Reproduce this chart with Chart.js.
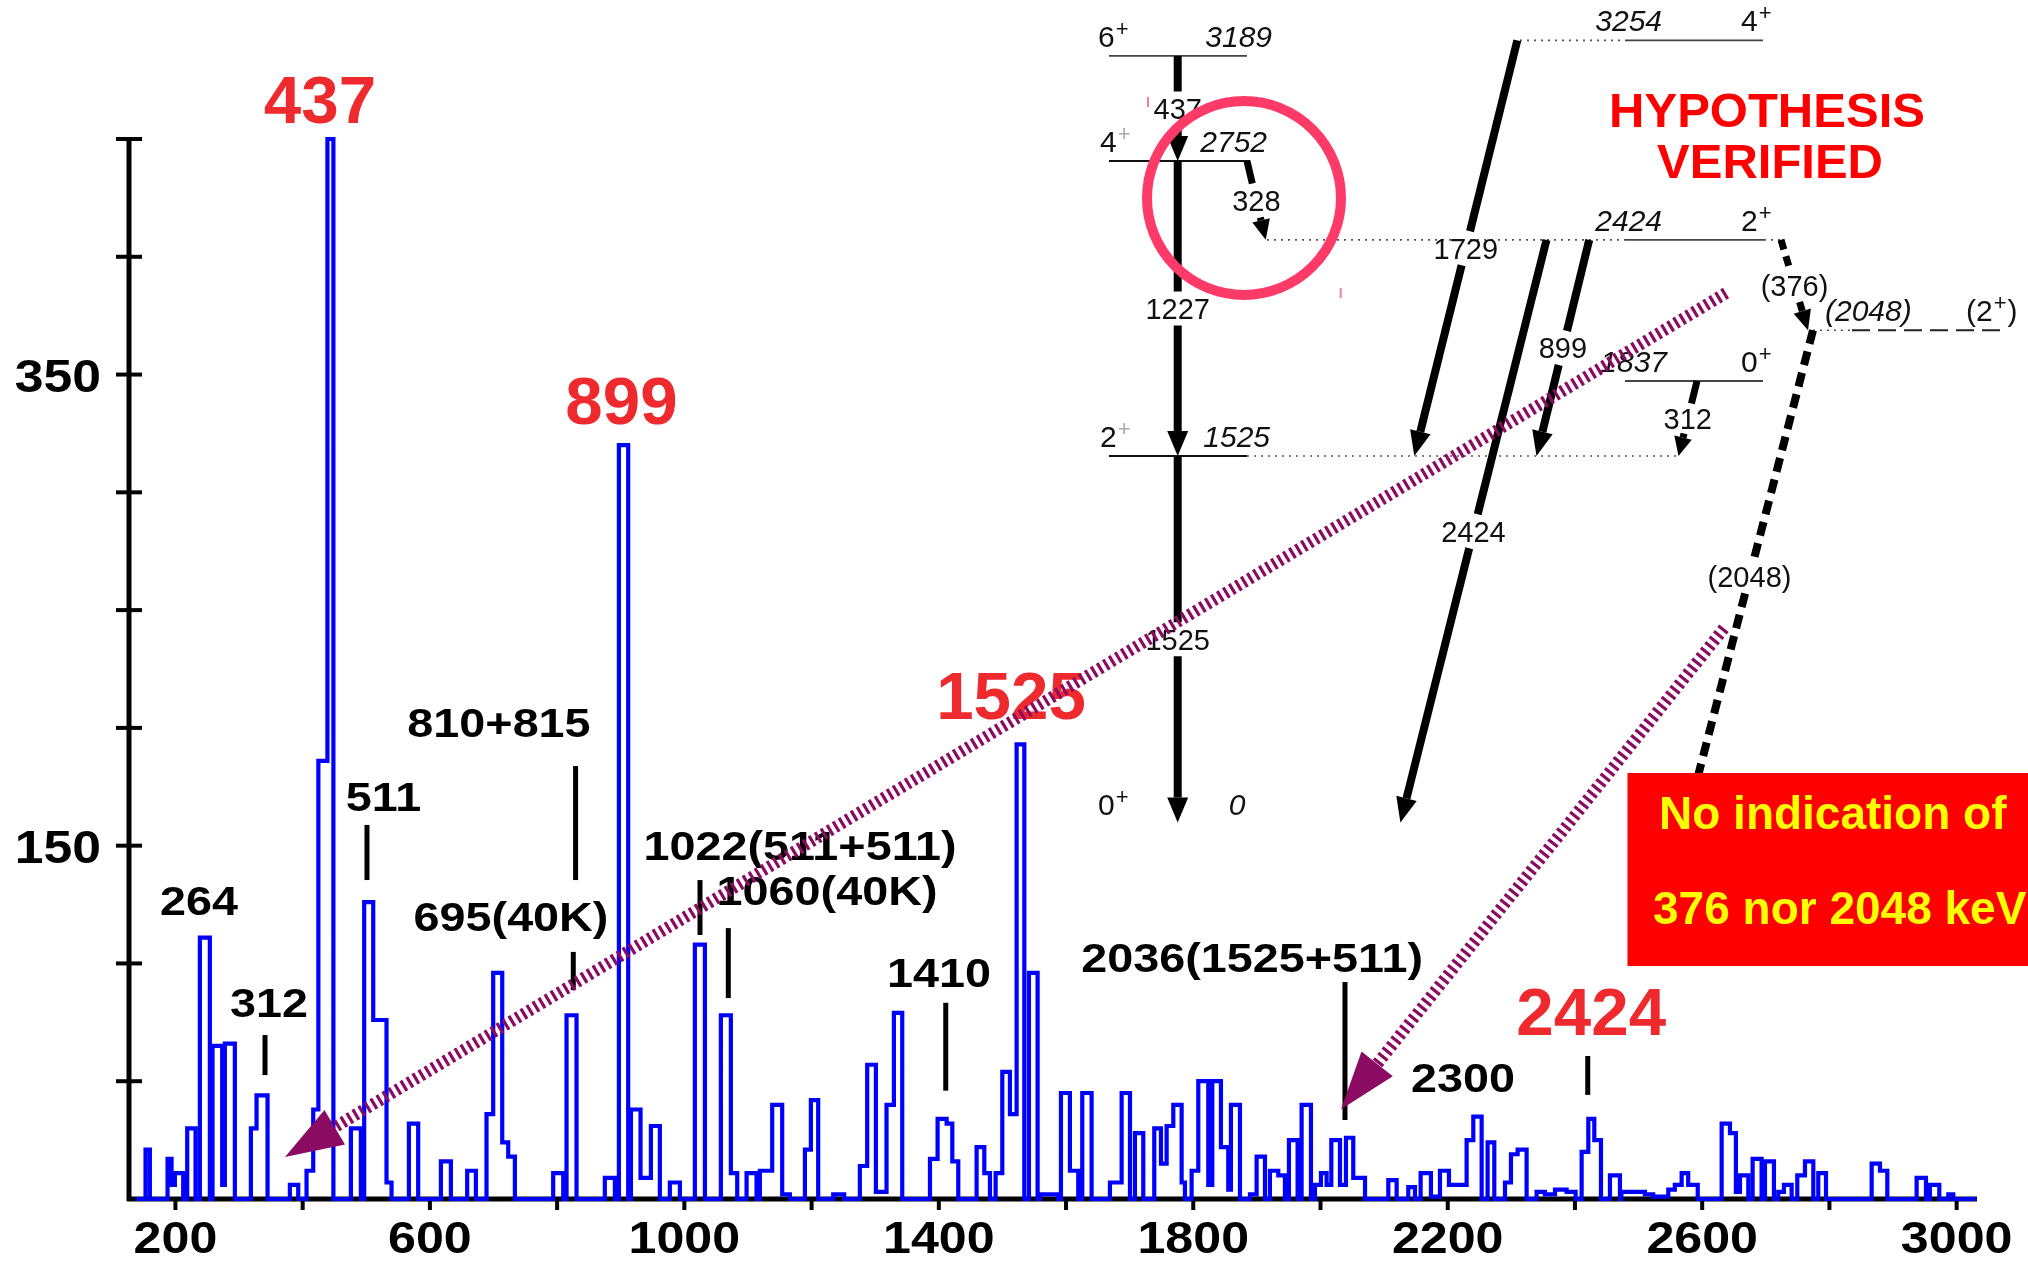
<!DOCTYPE html>
<html>
<head>
<meta charset="utf-8">
<script src="https://cdn.jsdelivr.net/npm/chart.js@4/dist/chart.umd.min.js"></script>
<style>
  html, body { margin: 0; padding: 0; background: #ffffff; }
  canvas { display: block; }
</style>
</head>
<body>
<canvas id="spec" width="2028" height="1261"></canvas>
<script>
// ---------------------------------------------------------------
// Gamma-ray spectrum: [left bin edge (keV), counts in bin]; the last
// entry closes the final bin.
// ---------------------------------------------------------------
const spectrum = [
  [138,0],[153,21],[159.8,0],[187.6,17],[193.9,6],[199.1,11],[212.2,0],[218.5,30],[231.6,0],
  [238.4,111],[254.1,0],[258.3,65],[273.5,6],[277.7,66],[293.4,0],[318.6,30],[327.5,44],[344.8,0],
  [379.9,6],[393,0],[406.1,12],[416.6,38],[424.7,186],[438.9,450],[448.3,0],[475.8,30],[491.5,0],
  [496.7,126],[510.9,76],[531.8,7],[539.7,0],[567,32],[581.6,0],[617.3,16],[633,0],[658.6,12],
  [672.3,0],[689,36],[699.5,96],[713.7,24],[723.1,18],[733.6,0],[793.8,11],[809.6,0],[814.8,78],
  [830.5,0],[875,9],[890.8,0],[897.1,320],[911.7,0],[916,38],[931.1,9],[947.4,31],[961.5,0],
  [977.2,7],[993,0],[1016.5,108],[1032.3,0],[1057.4,78],[1073.1,11],[1083.1,0],[1097.8,11],[1113.5,0],
  [1118.7,12],[1138.1,40],[1153.8,2],[1165.9,0],[1189.5,21],[1198.9,42],[1210.4,0],[1234,2],[1251.3,0],
  [1275.9,14],[1287.4,57],[1301.1,3],[1317.8,40],[1329.4,79],[1342.5,0],[1386.1,17],[1398.1,34],
  [1412.3,32],[1421.2,16],[1430.6,0],[1459.4,22],[1471.5,11],[1480.4,0],[1489.3,11],[1499.8,54],
  [1511.8,36],[1522.3,193],[1534.4,0],[1541.7,96],[1555.3,0],[1559,2],[1587.8,0],[1592,45],[1606.1,12],
  [1619.2,0],[1625.5,45],[1640.2,0],[1669,7],[1687.4,45],[1700.5,0],[1708.3,28],[1721.4,0],[1738.7,30],
  [1749.2,15],[1758.1,31],[1768.6,40],[1781.7,7],[1786.9,0],[1797.4,12],[1807.9,50],[1823.6,6],
  [1829.9,50],[1843.5,22],[1855,4],[1859.2,40],[1873.4,0],[1889.1,2],[1899.6,18],[1912.7,0],[1920.5,12],
  [1933.6,10],[1944.1,0],[1950.4,25],[1964,0],[1970.3,40],[1985,0],[1991.3,6],[2000.7,11],[2009.6,6],
  [2017,25],[2030.6,6],[2040,26],[2051.5,9],[2070,0],[2106.6,8],[2119.7,0],[2138,5],[2148.5,0],
  [2157.4,11],[2173.6,1],[2187.8,12],[2201.9,6],[2229.7,25],[2240.2,35],[2253.3,0],[2262.7,24],
  [2273.2,0],[2290,7],[2299.4,19],[2309.9,21],[2324,0],[2339.7,3],[2352.8,2],[2368.6,4],[2386.9,3],
  [2401,0],[2410.5,20],[2421,34],[2430.4,25],[2440.9,0],[2455,10],[2470.7,0],[2473,3],[2510,2],
  [2523,1],[2546.7,4],[2557,6],[2567.7,11],[2578,6],[2593,0],[2630.6,32],[2643.7,28],[2653,3],
  [2659.4,10],[2672.5,0],[2679.3,17],[2693.4,0],[2698.7,16],[2712.8,0],[2719.6,3],[2728.5,6],
  [2740.6,0],[2749.5,10],[2761.6,16],[2774.7,0],[2782.5,11],[2794.6,0],[2866.4,15],[2879.5,12],
  [2891,0],[2937.1,9],[2951.8,0],[2958,6],[2972.7,0],[2986.9,2],[2994.7,0],[3031,0]
];

// Axis ticks and their labels
const xTicks = [200,400,600,800,1000,1200,1400,1600,1800,2000,2200,2400,2600,2800,3000];
const xTickLabels = ['200','','600','','1000','','1400','','1800','','2200','','2600','','3000'];
const yTicks = [50,100,150,200,250,300,350,400,450];
const yTickLabels = ['','','150','','','','350','',''];

// Gamma lines confirmed in the spectrum (red) and other identified lines (black)
const confirmedLines = ['437','899','1525','2424'];
const otherLines = ['264','312','511','810+815','695(40K)','1022(511+511)','1060(40K)','1410','2036(1525+511)','2300'];

// Level scheme: level energies (keV) and spin-parity
const levelEnergies = [0, 1525, 2752, 3189, 3254, 2424, 1837, 2048];
const levelSpins    = ['0+', '2+', '4+', '6+', '4+', '2+', '0+', '(2+)'];
// Transitions between levels
const gammaNames = ['437','1227','1525','328','1729','2424','899','312','(376)','(2048)'];
const gammaFrom  = [3189, 2752, 1525, 2752, 3254, 2424, 2424, 1837, 2424, 2048];
const gammaTo    = [2752, 1525, 0,    2424, 1525, 0,    1525, 1525, 2048, 0];

// ---------------------------------------------------------------
// Placement of the annotations (spectrum units: keV, counts)
// ---------------------------------------------------------------
const confirmedAnchors = [[427.3,456.8],[901.2,329],[1513.5,203.8],[2425.6,69.6]];
const otherAnchors = [[237,120.6],[347,77.4],[527,164.7],[708.6,196.1],[727.5,113.8],
                      [1181.8,143.9],[1224.3,124.8],[1400.3,90],[1892.4,96.4],[2224,45.4]];
// vertical pointer marks: [keV, lower count, upper count]
const pointerMarks = [[340.8,52.6,69.6],[501.1,135.4,158.8],[829,135.4,183.8],[825.4,88.7,104.9],
                      [1024.6,112.1,135.4],[1069.1,85.3,115],[1410.9,46,83.3],[2038.5,33.5,92.1],
                      [2420.1,44.2,60.7]];

// Level-scheme drawing layout (canvas px)
const schemeY = e => 822.6 - 0.2404 * e;
const levelLayout = [
  { lines: [], spinX: 1098, eX: 1237, eAlign: 'center' },
  { lines: [[1109,1247,'solid'],[1247,1679,'dot']], spinX: 1100, eX: 1270, eAlign: 'right', supColor: '#aaaaaa' },
  { lines: [[1109,1250,'solid']], spinX: 1100, eX: 1267, eAlign: 'right', supColor: '#aaaaaa' },
  { lines: [[1109,1247,'thin']], spinX: 1098, eX: 1272, eAlign: 'right' },
  { lines: [[1520,1625,'dot'],[1625,1763,'thin']], spinX: 1741, eX: 1662, eAlign: 'right' },
  { lines: [[1267,1625,'dot'],[1625,1764,'thin'],[1764,1781,'dot']], spinX: 1741, eX: 1662, eAlign: 'right' },
  { lines: [[1625,1763,'thin']], spinX: 1741, eX: 1667, eAlign: 'right' },
  { lines: [[1813,1852,'dot'],[1852,2005,'dash']], spinX: 1966, eX: 1825, eAlign: 'left', paren: true }
];
const gammaLayout = [
  { x0: 1177.7, x1: 1177.7 },
  { x0: 1177.7, x1: 1177.7 },
  { x0: 1177.7, x1: 1177.7 },
  { x0: 1247,   x1: 1265.7, head: 20, half: 9, width: 7 },
  { x0: 1517.3, x1: 1414.3 },
  { x0: 1546.5, x1: 1400.4 },
  { x0: 1589.2, x1: 1536.5 },
  { x0: 1697,   x1: 1678.5, head: 19, half: 9, width: 7, gap: 15 },
  { x0: 1781,   x1: 1808,   dash: [10, 7], width: 7, head: 20, half: 9 },
  { x0: 1813,   x1: 1686,   dash: [14, 8], width: 8 }
];

// Hatched pointers from the level scheme down to the spectrum
const pointerArrows = [
  { from: [1726, 293],   to: [372.2, 17.8] },
  { from: [1724, 628.3], to: [2032.3, 38.1] }
];

const FONT = '"Liberation Sans", Arial, Helvetica, sans-serif';

function drawText(ctx, str, x, y, font, color, align, sx) {
  ctx.save();
  ctx.translate(x, y);
  ctx.scale(sx || 1, 1);
  ctx.font = font;
  ctx.fillStyle = color;
  ctx.textAlign = align || 'center';
  ctx.textBaseline = 'alphabetic';
  ctx.fillText(str, 0, 0);
  ctx.restore();
}

function line(ctx, x0, y0, x1, y1) {
  ctx.beginPath();
  ctx.moveTo(x0, y0);
  ctx.lineTo(x1, y1);
  ctx.stroke();
}

// Axes drawn from the chart's own scales
const axesPlugin = {
  id: 'spectrumAxes',
  beforeDatasetsDraw(chart) {
    const { ctx, scales: { x, y } } = chart;
    const x0 = x.getPixelForValue(x.min);
    const x1 = x.getPixelForValue(x.max);
    const yBase = y.getPixelForValue(0);
    const yTop = y.getPixelForValue(y.max);
    ctx.save();
    ctx.strokeStyle = '#000000';
    ctx.lineCap = 'butt';
    ctx.lineWidth = 5;
    line(ctx, x0, yTop - 1, x0, yBase + 2);
    line(ctx, x0 - 2, yBase, x1, yBase);
    ctx.lineWidth = 4;
    yTicks.forEach((v, i) => {
      const py = y.getPixelForValue(v);
      line(ctx, x0 - 13, py, x0 + 13, py);
      if (yTickLabels[i]) {
        drawText(ctx, yTickLabels[i], 101, py + 17, 'bold 47px ' + FONT, '#000000', 'right', 1.1);
      }
    });
    xTicks.forEach((v, i) => {
      const px = x.getPixelForValue(v);
      line(ctx, px, yBase - 2, px, yBase + 11);
      if (xTickLabels[i]) {
        drawText(ctx, xTickLabels[i], px, 1253, 'bold 44px ' + FONT, '#000000', 'center', 1.14);
      }
    });
    ctx.restore();
  }
};

function drawSpin(ctx, spin, x, yb, supColor) {
  // spin like '2+' or '(2+)': superscript parity
  let pre = spin, sup = '', post = '';
  const m = spin.match(/^(\(?\d)([+-])(\)?)$/);
  if (m) { pre = m[1]; sup = m[2]; post = m[3]; }
  ctx.save();
  ctx.textAlign = 'left';
  ctx.textBaseline = 'alphabetic';
  ctx.font = '30px ' + FONT;
  ctx.fillStyle = '#111111';
  ctx.fillText(pre, x, yb);
  let w = ctx.measureText(pre).width + 1;
  ctx.font = '22px ' + FONT;
  ctx.fillStyle = supColor || '#111111';
  ctx.fillText(sup, x + w, yb - 11);
  w += ctx.measureText(sup).width + 1;
  ctx.font = '30px ' + FONT;
  ctx.fillStyle = '#111111';
  if (post) ctx.fillText(post, x + w, yb);
  ctx.restore();
}

function drawGamma(ctx, x0, y0, x1, y1, name, o) {
  const dx = x1 - x0, dy = y1 - y0, len = Math.hypot(dx, dy);
  const ux = dx / len, uy = dy / len;
  const headLen = o.head || 25, headHalf = o.half || 10.5;
  const gap = o.gap || 17;
  const xm = (x0 + x1) / 2, ym = (y0 + y1) / 2;
  const at = yy => [x0 + dx * (yy - y0) / dy, yy];
  const A = at(ym - gap), B = at(ym + gap);
  const H = [x1 - ux * headLen, y1 - uy * headLen];
  ctx.save();
  ctx.strokeStyle = '#000000';
  ctx.fillStyle = '#000000';
  ctx.lineWidth = o.width || 8;
  ctx.lineCap = 'butt';
  ctx.setLineDash(o.dash || []);
  line(ctx, x0, y0, A[0], A[1]);
  if (B[1] < H[1]) line(ctx, B[0], B[1], H[0], H[1]);
  ctx.setLineDash([]);
  ctx.beginPath();
  ctx.moveTo(x1, y1);
  ctx.lineTo(H[0] - uy * headHalf, H[1] + ux * headHalf);
  ctx.lineTo(H[0] + uy * headHalf, H[1] - ux * headHalf);
  ctx.closePath();
  ctx.fill();
  ctx.restore();
  drawText(ctx, name, xm, ym + 10.5, '29px ' + FONT, '#111111', 'center', 1);
}

const overlayPlugin = {
  id: 'spectrumOverlay',
  afterDatasetsDraw(chart) {
    const { ctx, scales: { x, y } } = chart;
    const px = e => x.getPixelForValue(e);
    const py = c => y.getPixelForValue(c);

    // pointer marks above the peaks
    ctx.save();
    ctx.strokeStyle = '#000000';
    ctx.lineWidth = 5;
    ctx.lineCap = 'butt';
    pointerMarks.forEach(([e, c0, c1]) => line(ctx, px(e), py(c0), px(e), py(c1)));
    ctx.restore();

    // line identifications
    otherLines.forEach((t, i) => {
      const [e, c] = otherAnchors[i];
      drawText(ctx, t, px(e), py(c), 'bold 41px ' + FONT, '#000000', 'center', 1.14);
    });
    confirmedLines.forEach((t, i) => {
      const [e, c] = confirmedAnchors[i];
      drawText(ctx, t, px(e), py(c), 'bold 66px ' + FONT, '#ee2a2e', 'center', 1.02);
    });

    // ----- level scheme -----
    ctx.save();
    levelEnergies.forEach((e, i) => {
      const L = levelLayout[i];
      const ly = schemeY(e);
      L.lines.forEach(([a, b, style]) => {
        ctx.beginPath();
        if (style === 'dot') { ctx.setLineDash([2, 5]); ctx.lineWidth = 1.6; ctx.strokeStyle = '#555555'; }
        else if (style === 'dash') { ctx.setLineDash([18, 8]); ctx.lineWidth = 2; ctx.strokeStyle = '#222222'; }
        else if (style === 'thin') { ctx.setLineDash([]); ctx.lineWidth = 1.8; ctx.strokeStyle = '#444444'; }
        else { ctx.setLineDash([]); ctx.lineWidth = 2; ctx.strokeStyle = '#111111'; }
        ctx.moveTo(a, ly); ctx.lineTo(b, ly); ctx.stroke();
      });
      ctx.setLineDash([]);
      const yb = e === 0 ? ly - 8 : ly - 9;
      drawSpin(ctx, levelSpins[i], L.spinX, yb, L.supColor);
      const eTxt = L.paren ? '(' + e + ')' : String(e);
      drawText(ctx, eTxt, L.eX, yb, 'italic 30px ' + FONT, '#111111', L.eAlign, 1);
    });
    ctx.restore();

    gammaNames.forEach((g, i) => {
      const G = gammaLayout[i];
      drawGamma(ctx, G.x0, schemeY(gammaFrom[i]), G.x1, schemeY(gammaTo[i]), g, G);
    });

    // highlight ring around the 328 keV branch
    ctx.save();
    ctx.strokeStyle = '#fd3a68';
    ctx.lineWidth = 10;
    ctx.beginPath();
    ctx.arc(1244, 198, 97, 0, Math.PI * 2);
    ctx.stroke();
    ctx.strokeStyle = '#ff7a95';
    ctx.lineWidth = 2;
    line(ctx, 1148, 97, 1148, 107);
    line(ctx, 1340.7, 288, 1340.7, 298);
    ctx.restore();

    // statements
    drawText(ctx, 'HYPOTHESIS', 1767, 127, 'bold 49px ' + FONT, '#ff0000', 'center', 1);
    drawText(ctx, 'VERIFIED', 1770, 178, 'bold 49px ' + FONT, '#ff0000', 'center', 1);

    ctx.save();
    ctx.fillStyle = '#ff0000';
    ctx.fillRect(1627.5, 773, 2028 - 1627.5, 193);
    ctx.restore();
    drawText(ctx, 'No indication of', 1659, 829, 'bold 46px ' + FONT, '#ffff00', 'left', 1);
    drawText(ctx, '376 nor 2048 keV', 1653, 924, 'bold 46px ' + FONT, '#ffff00', 'left', 1);

    // hatched pointers
    pointerArrows.forEach(a => {
      const [sx, sy] = a.from;
      const tx = px(a.to[0]), ty = py(a.to[1]);
      const dx = tx - sx, dy = ty - sy, len = Math.hypot(dx, dy);
      const ux = dx / len, uy = dy / len;
      const hl = 58, hw = 20;
      const bx = tx - ux * hl, by = ty - uy * hl;
      ctx.save();
      ctx.strokeStyle = '#8b0a62';
      ctx.fillStyle = '#8b0a62';
      ctx.lineWidth = 12;
      ctx.lineCap = 'butt';
      ctx.setLineDash([3.2, 3.8]);
      line(ctx, sx, sy, bx + ux * 2, by + uy * 2);
      ctx.setLineDash([]);
      ctx.beginPath();
      ctx.moveTo(tx, ty);
      ctx.lineTo(bx - uy * hw, by + ux * hw);
      ctx.lineTo(bx + uy * hw, by - ux * hw);
      ctx.closePath();
      ctx.fill();
      ctx.restore();
    });
  }
};

new Chart(document.getElementById('spec').getContext('2d'), {
  type: 'line',
  data: {
    datasets: [{
      data: spectrum.map(([e, c]) => ({ x: e, y: c })),
      stepped: true,
      borderColor: '#0000ff',
      borderWidth: 4.2,
      pointRadius: 0,
      fill: false,
      clip: false
    }]
  },
  options: {
    responsive: false,
    animation: false,
    devicePixelRatio: 1,
    layout: { padding: { left: 129, right: 51, top: 139, bottom: 62 } },
    scales: {
      x: { type: 'linear', min: 127, max: 3032, display: false },
      y: { type: 'linear', min: 0, max: 450, display: false }
    },
    plugins: { legend: { display: false }, tooltip: { enabled: false } }
  },
  plugins: [axesPlugin, overlayPlugin]
});
</script>
</body>
</html>
